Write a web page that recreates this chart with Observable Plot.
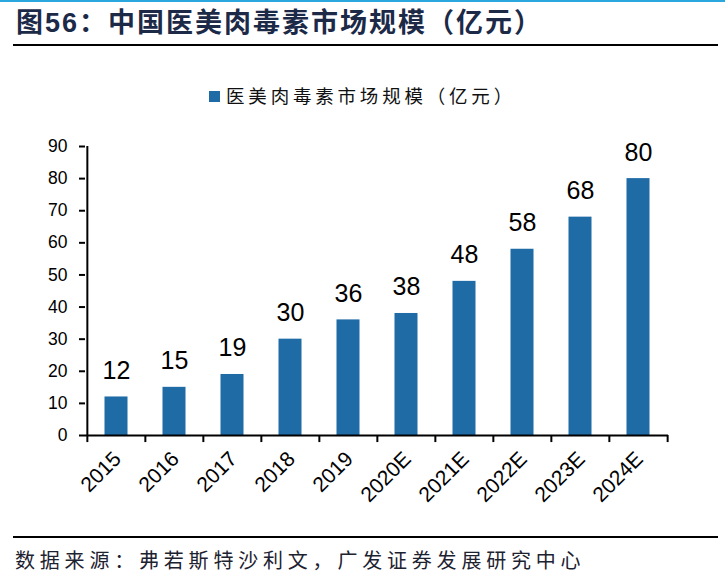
<!DOCTYPE html>
<html>
<head>
<meta charset="utf-8">
<script src="https://cdn.jsdelivr.net/npm/d3@7"></script>
<script src="https://cdn.jsdelivr.net/npm/@observablehq/plot@0.6"></script>
<style>
  html, body { margin: 0; padding: 0; background: #fff; }
  #page { position: relative; width: 725px; height: 588px; overflow: hidden; background: #fff; }
  #topline { position: absolute; left: 0; top: 0; width: 725px; height: 2px; background: #2aa7df; }
  #title { position: absolute; left: 16px; top: 7px; font-family: "Liberation Sans", "Noto Sans CJK SC", sans-serif; font-weight: 700; font-size: 27px; line-height: 32px; color: #1c2a48; letter-spacing: 2px; white-space: nowrap; }
  #rule1 { position: absolute; left: 13px; top: 44px; width: 705px; height: 2px; background: #000; }
  #legend { position: absolute; left: 0; width: 725px; top: 83px; text-align: center; font-family: "Noto Sans CJK SC", sans-serif; font-size: 18.5px; line-height: 24px; color: #111; letter-spacing: 3.8px; white-space: nowrap; }
  #legend .sw { display: inline-block; width: 11px; height: 11px; margin-right: 6px; vertical-align: 1px; }
  #chart { position: absolute; left: 0; top: 120px; }
  #rule2 { position: absolute; left: 13px; top: 536px; width: 705px; height: 2px; background: #000; }
  #source { position: absolute; left: 15px; top: 546px; font-family: "Noto Sans CJK SC", sans-serif; font-size: 20px; line-height: 28px; color: #1d2230; letter-spacing: 4.8px; white-space: nowrap; }
</style>
</head>
<body>
<div id="page">
  <div id="topline"></div>
  <div id="title"></div>
  <div id="rule1"></div>
  <div id="legend"></div>
  <div id="chart"></div>
  <div id="rule2"></div>
  <div id="source"></div>
</div>
<script>
// ---- data ----
const years = ["2015", "2016", "2017", "2018", "2019", "2020E", "2021E", "2022E", "2023E", "2024E"];
const marketSize = [12, 15, 19, 30, 36, 38, 48, 58, 68, 80];
const yTicks = [0, 10, 20, 30, 40, 50, 60, 70, 80, 90];
const titleText = "图56：中国医美肉毒素市场规模（亿元）";
const seriesName = "医美肉毒素市场规模（亿元）";
const sourceText = "数据来源：弗若斯特沙利文，广发证券发展研究中心";

const barColor = "#1f6ba6";

const data = years.map((y, i) => ({year: y, value: marketSize[i]}));

document.getElementById("title").textContent = titleText;
document.getElementById("legend").innerHTML =
  `<span class="sw" style="background:${barColor}"></span>${seriesName}`;
document.getElementById("source").textContent = sourceText;

const W = 725, H = 410, mL = 85, mR = 57, mT = 26, mB = 95;
const bw = (W - mL - mR) / years.length;

const chart = Plot.plot({
  width: W,
  height: H,
  marginLeft: mL,
  marginRight: mR,
  marginTop: mT,
  marginBottom: mB,
  style: {fontFamily: "Arial, 'Liberation Sans', sans-serif", fontSize: "17px", color: "#000", background: "#fff"},
  x: {domain: years, padding: 0, label: null},
  y: {domain: [0, 90], label: null},
  marks: [
    Plot.barY(data, {x: "year", y: "value", fill: barColor, insetLeft: 17.5, insetRight: 17.5}),
    Plot.ruleY([0], {stroke: "#000", strokeWidth: 2}),
    Plot.ruleX([years[0]], {x: d => d, y1: 0, y2: 90, dx: -bw / 2, stroke: "#000", strokeWidth: 2}),
    Plot.ruleX(years, {x: d => d, y1: 0, y2: -2.2, dx: -bw / 2, stroke: "#000", strokeWidth: 2}),
    Plot.ruleX([years[years.length - 1]], {x: d => d, y1: 0, y2: -2.2, dx: bw / 2, stroke: "#000", strokeWidth: 2}),
    Plot.axisY({ticks: yTicks, tickSize: 6, tickPadding: 12, fontSize: 17.5, label: null, strokeWidth: 2}),
    Plot.axisX({tickSize: 0, tickPadding: 20, dx: 1, tickRotate: -45, fontSize: 21, label: null}),
    Plot.text(data, {x: "year", y: "value", text: d => String(d.value), dy: -18, lineAnchor: "bottom", fontSize: 25, fill: "#000"})
  ]
});
document.getElementById("chart").appendChild(chart);
</script>
</body>
</html>
